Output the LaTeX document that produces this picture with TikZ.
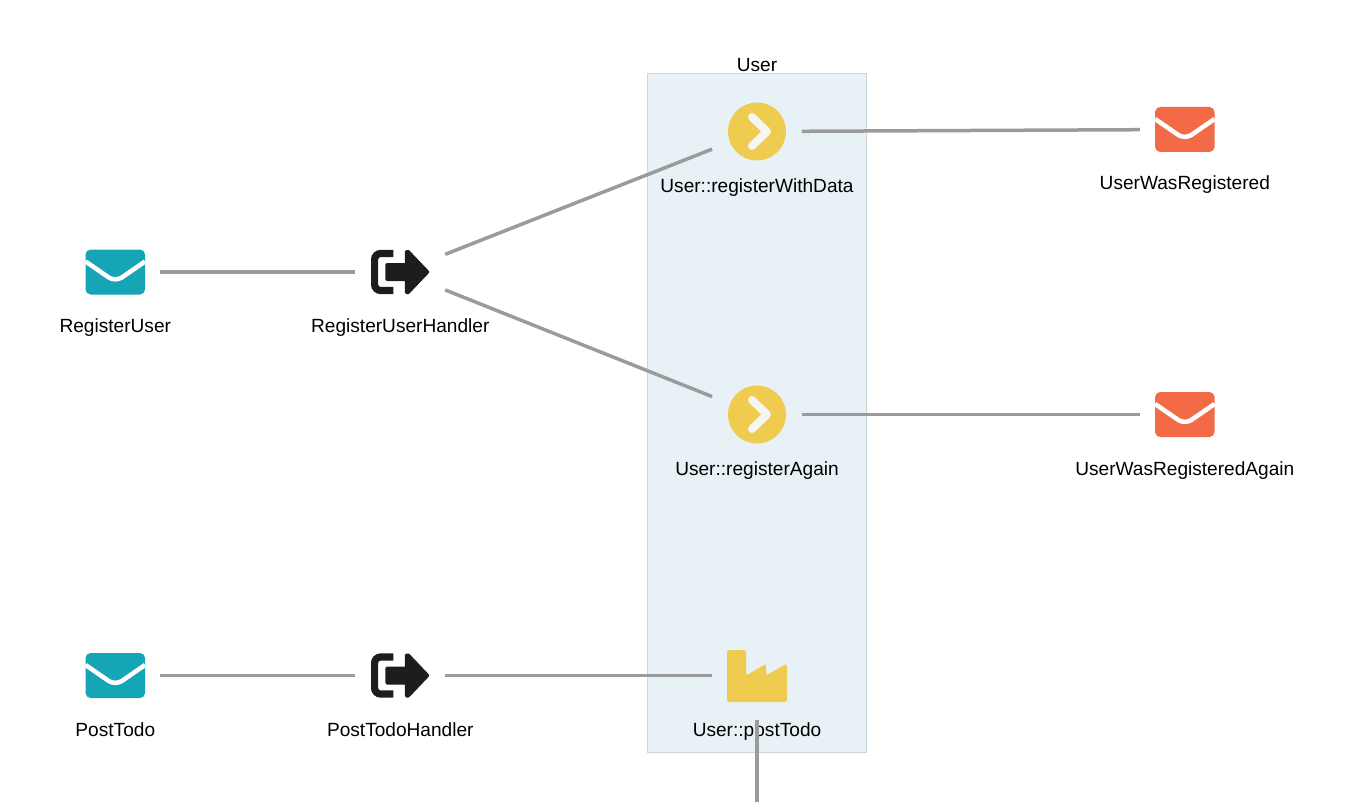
\documentclass[tikz,border=0pt]{standalone}
\usepackage{fontspec}
\setmainfont{Liberation Sans}
\usetikzlibrary{arrows.meta,positioning}
\definecolor{command}{HTML}{15A5B5}
\definecolor{event}{HTML}{F26A46}
\definecolor{aggregate}{HTML}{EFCB50}
\definecolor{handler}{HTML}{1D1D1D}
\definecolor{link}{HTML}{9B9B9B}
\definecolor{groupfill}{HTML}{E8F1F6}
\definecolor{groupline}{HTML}{CFD6DB}
\definecolor{chevron}{HTML}{F5F5F1}
\tikzset{
  mailicon/.pic={
    \path[pic actions, rounded corners=2.5pt] (-29.7,-22.5) rectangle (29.7,22.5);
    \draw[white, line width=2.25pt, rounded corners=4pt] (-29.7,-10.5) -- (0,10) -- (29.7,-10.5);
  },
  handlericon/.pic={
    \draw[handler, line width=3.6pt, rounded corners=3pt] (-7,-18.5) -- (-25.7,-18.5) -- (-25.7,18.5) -- (-7,18.5);
    \fill[handler, draw=handler, line width=1.5pt, line join=round] (-13.5,-7.5) -- (6,-7.5) -- (6,-20.5) -- (8,-20.5) -- (27.5,0) -- (8,20.5) -- (6,20.5) -- (6,7.5) -- (-13.5,7.5) -- cycle;
  },
  chevronicon/.pic={
    \fill[aggregate] (0,0) circle[radius=29];
    \draw[chevron, line width=4pt, line cap=round, line join=round] (-5,-14.5) -- (10,0) -- (-5,14.5);
  },
  factoryicon/.pic={
    \fill[aggregate, rounded corners=1.2pt] (-30,-25.5) -- (-11,-25.5) -- (-11,0) -- (8,-11) -- (9,-11) -- (9,0) -- (28,-11) -- (30,-11) -- (30,26.5) -- (-30,26.5) -- cycle;
  }
}
\begin{document}
\begin{tikzpicture}[x=0.5pt, y=-0.5pt,
  icon/.style={minimum size=44.5pt, inner sep=0pt},
  lbl/.style={inner sep=0pt, text height=7.5pt, text depth=2.5pt, font=\fontsize{9.55}{12}\selectfont},
  grp/.style={draw=groupline, fill=groupfill, line width=0.6pt, minimum width=109.5pt, minimum height=339.5pt, inner sep=0pt},
  arr/.style={draw=link, line width=1.75pt}]
\useasboundingbox (0,0) rectangle (1368,802);
\node[grp] (user) at (757,413) {};
\node[lbl, above=-2pt of user] (usertitle) {User};
% icons
\node[icon] (reguser) at (115.3,272) {};
\node[icon] (reghandler) at (400.3,272) {};
\node[icon] (regdata) at (757,131.5) {};
\node[icon] (regagain) at (757,414.5) {};
\node[icon] (wasreg) at (1184.8,129.5) {};
\node[icon] (wasagain) at (1184.8,414.5) {};
\node[icon] (posttodo) at (115.3,675.5) {};
\node[icon] (posthandler) at (400.3,675.5) {};
\node[icon] (postuser) at (757,675.5) {};
\coordinate (postout) at (757,802);
\pic[fill=command] at (reguser) {mailicon};
\pic[fill=command] at (posttodo) {mailicon};
\pic[fill=event] at (wasreg) {mailicon};
\pic[fill=event] at (wasagain) {mailicon};
\pic at (reghandler) {handlericon};
\pic at (posthandler) {handlericon};
\pic at (regdata) {chevronicon};
\pic at (regagain) {chevronicon};
\pic at (postuser) {factoryicon};
% labels
\node[lbl, below=0.1pt of reguser] (reguserl) {RegisterUser};
\node[lbl, below=0.1pt of reghandler] (reghandlerl) {RegisterUserHandler};
\node[lbl, below=0.1pt of regdata] (regdatal) {User::registerWithData};
\node[lbl, below=0.1pt of regagain] (regagainl) {User::registerAgain};
\node[lbl, below=0.1pt of wasreg] (wasregl) {UserWasRegistered};
\node[lbl, below=0.1pt of wasagain] (wasagainl) {UserWasRegisteredAgain};
\node[lbl, below=0.1pt of posttodo] (posttodol) {PostTodo};
\node[lbl, below=0.1pt of posthandler] (posthandlerl) {PostTodoHandler};
\node[lbl, below=0.1pt of postuser] (postuserl) {User::postTodo};
% connectors
\draw[arr] (reguser) -- (reghandler);
\draw[arr] (reghandler) -- (regdata);
\draw[arr] (reghandler) -- (regagain);
\draw[arr] (regdata) -- (wasreg);
\draw[arr] (regagain) -- (wasagain);
\draw[arr] (posttodo) -- (posthandler);
\draw[arr] (posthandler) -- (postuser);
\draw[arr] (postuser) -- (postout);
\end{tikzpicture}
\end{document}
